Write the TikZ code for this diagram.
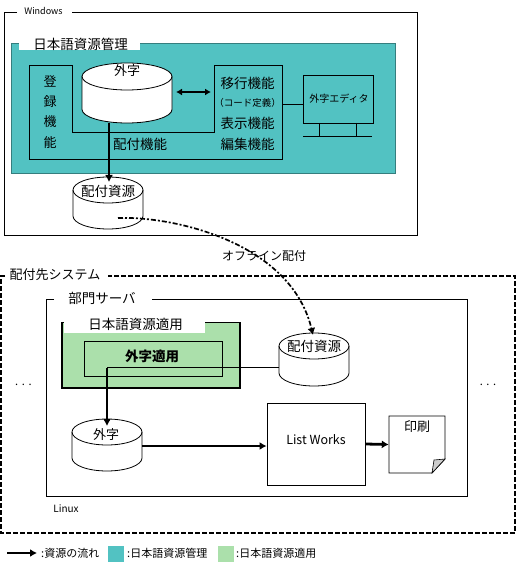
\documentclass[tikz,border=0pt]{standalone}
\usepackage{fontspec}
\setmainfont{Noto Sans CJK JP}
\usetikzlibrary{arrows.meta,calc}
\definecolor{tealfill}{HTML}{52C2C2}
\definecolor{greenfill}{HTML}{ABE0AB}
\tikzset{
  base/.style={x=1pt,y=-1pt},
  txt/.style={inner sep=0pt,font=\fontsize{#1}{#1}\selectfont},
  txt/.default=13,
  thin line/.style={draw=black,line width=0.8pt},
  flow/.style={draw=black,line width=2.8pt,-{Latex[length=7pt,width=8pt]}},
  anchorbox/.style={inner sep=0pt,minimum width=0pt,minimum height=0pt},
  offline/.style={draw=black,line width=1.7pt,dash pattern=on 5pt off 2pt on 2pt off 2pt,-{Latex[length=7pt,width=8pt]}},
  frame dashed/.style={draw=black,line width=1.3pt,dash pattern=on 5pt off 2pt},
}
% name, x1, ytop, x2, ybottom, ry
\newcommand{\cylshape}[6]{%
  \path[fill=white,draw=black,line width=0.8pt]
    (#2,#3+#6) arc[start angle=180,end angle=0,x radius={(#4-#2)/2*1pt},y radius=#6pt]
    -- (#4,#5-#6) arc[start angle=0,end angle=-180,x radius={(#4-#2)/2*1pt},y radius=#6pt] -- cycle;
  \draw[line width=0.8pt] (#2,#3+#6) arc[start angle=180,end angle=360,x radius={(#4-#2)/2*1pt},y radius=#6pt];
  \node[anchorbox,minimum width={(#4-#2)*1pt},minimum height={(#5-#3)*1pt}] (#1) at ({(#2+#4)/2},{(#3+#5)/2}) {};
}
\begin{document}
\begin{tikzpicture}[base]
\useasboundingbox (0,0) rectangle (520,577);
\fill[white] (0,0) rectangle (520,577);

% Windows frame
\draw[thin line] (17,12.5) -- (4,12.5) -- (4,235) -- (417,235) -- (417,12.5) -- (72,12.5);
\node[txt=9] (lwin) at (43.5,11) {Windows};

% Management area
\fill[tealfill] (11,43) rectangle (395,173);
\draw[tealfill!65!black,line width=0.5pt] (11,43) rectangle (395,173);
\fill[white] (19,39) rectangle (140,50.5);
\node[txt=13.5] (lmgmt) at (80.5,44) {日本語資源管理};
\draw[thin line] (29,65) -- (72,65) -- (72,132) -- (214,132) -- (214,65) -- (282,65) -- (282,159) -- (29,159) -- cycle;
\cylshape{gaiji}{82}{63}{172}{123}{13.5}
\node[txt=13] (tgaiji) at (127,71) {外字};
\node[txt=13] (a1) at (50,81) {登};
\node[txt=13] (a2) at (50,102) {録};
\node[txt=13] (a3) at (50,122) {機};
\node[txt=13] (a4) at (50,143) {能};
\node[txt=13.5] (b1) at (140,144) {配付機能};
\node[txt=13.5] (c1) at (247.5,83) {移行機能};
\node[txt=9.5] (c2) at (247.5,103) {（コード定義）};
\node[txt=13.5] (c3) at (247.5,123) {表示機能};
\node[txt=13.5] (c4) at (247.5,144) {編集機能};
\coordinate (swapL) at (176,92);
\coordinate (swapR) at (211,92);
\draw[line width=2.6pt,{Latex[length=6pt,width=7pt]}-{Latex[length=6pt,width=7pt]}] (swapL) -- (swapR);
% monitor
\node[draw=black,line width=0.8pt,minimum width=70pt,minimum height=48pt,inner sep=0pt] (editor) at (338,99) {};
\node[txt=10] (teditor) at (339,99) {外字エディタ};
\coordinate (fnR) at (282,104.5);
\draw[thin line] (fnR) -- (fnR -| editor.west);
\coordinate (base1) at (303,136.5);
\coordinate (base2) at (372,136.5);
\draw[thin line] (base1) -- (base2);
\draw[thin line] (319,123) -- (319,136.5);
\draw[thin line] (356,123) -- (356,136.5);

% Distribution resource (Windows)
\cylshape{res1}{73}{177}{143}{229}{13}
\node[txt=13.5] (tres1) at (108,191) {配付資源};
\coordinate (flowEnd) at (109,182);
\draw[flow] (gaiji.south -| flowEnd) -- (flowEnd);

% Offline
\coordinate (offS) at (118,218);
\node[txt=12] (loff) at (264,256) {オフライン配付};

% Target system frame
\draw[frame dashed] (5,276) -- (1,276) -- (1,533) -- (515,533) -- (515,276) -- (108,276);
\node[txt=13] (ltarget) at (55,275) {配付先システム};

% Server frame
\draw[thin line] (54,299) -- (46,299) -- (46,496) -- (467,496) -- (467,299.5) -- (152,299.5);
\node[txt=13.5] (lserver) at (102,298) {部門サーバ};

% Apply area
\fill[greenfill] (62,322) rectangle (240,388);
\draw[line width=1.8pt] (205,322.5) -- (240,322.5) -- (240,388) -- (62,388) -- (62,322.5) -- (64,322.5);
\fill[white] (64,320) rectangle (205,332.5);
\node[txt=13.5] (lapply) at (135.5,324) {日本語資源適用};
\draw[line width=0.7pt] (84,341) rectangle (222,376);
\node[inner sep=0pt,font=\fontsize{13.5}{13.5}\bfseries\selectfont] (tapply) at (152,356) {外字適用};

% cylinders in server
\cylshape{res2}{279}{333}{349}{386}{13}
\node[txt=13.5] (tres2) at (314,346.5) {配付資源};
\cylshape{gaiji2}{72}{419}{142}{471}{13}
\node[txt=13] (tg2) at (106,434.5) {外字};
\coordinate (appJ) at (107,367.5);
\coordinate (appEnd) at (107,426);
\draw[line width=0.8pt] (appJ) -- (res2.west |- appJ);
\draw[flow] (appJ) -- (appEnd);

% offline curve
\coordinate (offE) at (313,335);
\draw[offline] (offS) .. controls (175,216) and (291,243) .. (offE);

% List Works
\node[draw=black,line width=0.8pt,minimum width=98pt,minimum height=82pt,inner sep=0pt] (lw) at (316,444) {};
\node[txt=12.5] (tlw) at (316,440) {List Works};
\coordinate (g2E) at (142,446);
\draw[flow] (g2E) -- (g2E -| lw.west);
% Document
\coordinate (docNW) at (389,416);
\coordinate (docE) at (445,459);
\coordinate (docS) at (432,473);
\draw[thin line,fill=white] (docNW) -- (445,416) -- (docE) -- (docS) -- (389,473) -- cycle;
\draw[line width=0.6pt,fill=black!20] (docS) -- (434,460) -- (docE) -- cycle;
\node[inner sep=0pt,minimum width=56pt,minimum height=57pt] (doc) at (417,444.5) {};
\node[txt=13] (tdoc) at (417,427) {印刷};
\draw[flow] (lw.east) -- (doc.west);

% dots
\node[txt=11] (d1) at (23.5,385) {.\,\,.\,\,.};
\node[txt=11] (d2) at (488,385) {.\,\,.\,\,.};
\node[txt=10] (llinux) at (66,509) {Linux};

% Legend
\coordinate (l1) at (7,553);
\coordinate (l2) at (37,553);
\draw[flow,line width=1.8pt] (l1) -- (l2);
\node[txt=11,anchor=west] (k1) at (41,553) {:資源の流れ};
\node[fill=tealfill,minimum width=16pt,minimum height=16pt,inner sep=0pt] (s1) at (116,554) {};
\node[txt=11,anchor=west] (k2) at (127,553) {:日本語資源管理};
\node[fill=greenfill,minimum width=16pt,minimum height=16pt,inner sep=0pt] (s2) at (226,554) {};
\node[txt=11,anchor=west] (k3) at (236,553) {:日本語資源適用};
\end{tikzpicture}
\end{document}
